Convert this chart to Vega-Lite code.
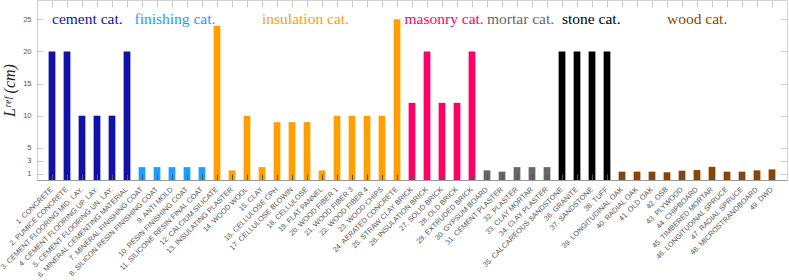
{
  "$schema": "https://vega.github.io/schema/vega-lite/v6.json",
  "width": 750,
  "height": 180,
  "autosize": {"type": "none"},
  "padding": {"left": 37, "top": 0, "right": 2, "bottom": 100},
  "config": {"view": {"stroke": "#d4d4d4"}, "font": "Liberation Sans"},
  "datasets": {
    "bars": [
      {"n": 1, "material": "1. CONCRETE", "category": "cement", "lref": 20},
      {"n": 2, "material": "2. PUMICE CONCRETE", "category": "cement", "lref": 20},
      {"n": 3, "material": "3. CEMENT FLOORING MID. LAY.", "category": "cement", "lref": 10},
      {"n": 4, "material": "4. CEMENT FLOORING UP. LAY.", "category": "cement", "lref": 10},
      {"n": 5, "material": "5. CEMENT FLOORING UN. LAY.", "category": "cement", "lref": 10},
      {"n": 6, "material": "6. MINERAL CEMENTING MATERIAL", "category": "cement", "lref": 20},
      {"n": 7, "material": "7. MINERAL FINISHING COAT", "category": "finishing", "lref": 2},
      {"n": 8, "material": "8. SILICON RESIN FINISHING COAT", "category": "finishing", "lref": 2},
      {"n": 9, "material": "9. ANTI MOLD", "category": "finishing", "lref": 2},
      {"n": 10, "material": "10. RESIN FINISHING COAT", "category": "finishing", "lref": 2},
      {"n": 11, "material": "11. SILICONE RESIN FINAL COAT", "category": "finishing", "lref": 2},
      {"n": 12, "material": "12. CALCIUM SILICATE", "category": "insulation", "lref": 24},
      {"n": 13, "material": "13. INSULATING PLASTER", "category": "insulation", "lref": 1.5},
      {"n": 14, "material": "14. WOOD WOOL", "category": "insulation", "lref": 10},
      {"n": 15, "material": "15. CLAY", "category": "insulation", "lref": 2},
      {"n": 16, "material": "16. CELLULOSE CPH", "category": "insulation", "lref": 9},
      {"n": 17, "material": "17. CELLULOSE BLOWIN", "category": "insulation", "lref": 9},
      {"n": 18, "material": "18. CELLULOSE", "category": "insulation", "lref": 9},
      {"n": 19, "material": "19. FLAT PANNEL", "category": "insulation", "lref": 1.5},
      {"n": 20, "material": "20. WOOD FIBER 1", "category": "insulation", "lref": 10},
      {"n": 21, "material": "21. WOOD FIBER 3", "category": "insulation", "lref": 10},
      {"n": 22, "material": "22. WOOD FIBER 4", "category": "insulation", "lref": 10},
      {"n": 23, "material": "23. WOOD CHIPS", "category": "insulation", "lref": 10},
      {"n": 24, "material": "24. AERATED CONCRETE", "category": "insulation", "lref": 25},
      {"n": 25, "material": "25. STRAW CLAY BRICK", "category": "masonry", "lref": 12},
      {"n": 26, "material": "26. INSULATION BRICK", "category": "masonry", "lref": 20},
      {"n": 27, "material": "27. SOLID BRICK", "category": "masonry", "lref": 12},
      {"n": 28, "material": "28. OLD BRICK", "category": "masonry", "lref": 12},
      {"n": 29, "material": "29. EXTRUDED BRICK", "category": "masonry", "lref": 20},
      {"n": 30, "material": "30. GYPSUM BOARD", "category": "mortar", "lref": 1.5},
      {"n": 31, "material": "31. CEMENT PLASTER", "category": "mortar", "lref": 1.3},
      {"n": 32, "material": "32. PLASTER", "category": "mortar", "lref": 2},
      {"n": 33, "material": "33. CLAY MORTAR", "category": "mortar", "lref": 2},
      {"n": 34, "material": "34. CLAY PLASTER", "category": "mortar", "lref": 2},
      {"n": 35, "material": "35. CALCAREOUS SANDSTONE", "category": "stone", "lref": 20},
      {"n": 36, "material": "36. GRANITE", "category": "stone", "lref": 20},
      {"n": 37, "material": "37. SANDSTONE", "category": "stone", "lref": 20},
      {"n": 38, "material": "38. TUFF", "category": "stone", "lref": 20},
      {"n": 39, "material": "39. LONGITUDINAL OAK", "category": "wood", "lref": 1.3},
      {"n": 40, "material": "40. RADIAL OAK", "category": "wood", "lref": 1.3},
      {"n": 41, "material": "41. OLD OAK", "category": "wood", "lref": 1.3},
      {"n": 42, "material": "42. OSB", "category": "wood", "lref": 1.2},
      {"n": 43, "material": "43. PLYWOOD", "category": "wood", "lref": 1.45},
      {"n": 44, "material": "44. CHIPBOARD", "category": "wood", "lref": 1.55},
      {"n": 45, "material": "45. TIMBERED MORTAR", "category": "wood", "lref": 2.05},
      {"n": 46, "material": "46. LONGITUDINAL SPRUCE", "category": "wood", "lref": 1.3},
      {"n": 47, "material": "47. RADIAL SPRUCE", "category": "wood", "lref": 1.3},
      {"n": 48, "material": "48. MICROSTRANDBOARD", "category": "wood", "lref": 1.5},
      {"n": 49, "material": "49. DWD", "category": "wood", "lref": 1.65}
    ],
    "cats": [
      {"label": "cement cat.", "category": "cement", "at": 1},
      {"label": "finishing cat.", "category": "finishing", "at": 6.5},
      {"label": "insulation cat.", "category": "insulation", "at": 15},
      {"label": "masonry cat.", "category": "masonry", "at": 24.5},
      {"label": "mortar cat.", "category": "mortar", "at": 30},
      {"label": "stone cat.", "category": "stone", "at": 35},
      {"label": "wood cat.", "category": "wood", "at": 42}
    ],
    "ticks": [
      {"t": 1}, {"t": 2}, {"t": 3}, {"t": 4}, {"t": 5}, {"t": 6}, {"t": 7}, {"t": 8}, {"t": 9}, {"t": 10},
      {"t": 11}, {"t": 12}, {"t": 13}, {"t": 14}, {"t": 15}, {"t": 16}, {"t": 17}, {"t": 18}, {"t": 19}, {"t": 20},
      {"t": 21}, {"t": 22}, {"t": 23}, {"t": 24}, {"t": 25}, {"t": 26}, {"t": 27}, {"t": 28}, {"t": 29}, {"t": 30},
      {"t": 31}, {"t": 32}, {"t": 33}, {"t": 34}, {"t": 35}, {"t": 36}, {"t": 37}, {"t": 38}, {"t": 39}, {"t": 40},
      {"t": 41}, {"t": 42}, {"t": 43}, {"t": 44}, {"t": 45}, {"t": 46}, {"t": 47}, {"t": 48}, {"t": 49}
    ]
  },
  "layer": [
    {
      "data": {"name": "bars"},
      "mark": {"type": "bar"},
      "encoding": {
        "x": {
          "field": "material", "type": "nominal", "sort": {"field": "n"},
          "scale": {"paddingInner": 0.55, "paddingOuter": 0.775},
          "axis": {
            "title": null, "labelAngle": -45, "labelAlign": "right", "labelBaseline": "middle",
            "labelFontSize": 7.3, "labelColor": "#555555", "labelFont": "Liberation Sans",
            "tickSize": -6, "tickColor": "#555555", "domainColor": "#999999",
            "labelPadding": 14, "zindex": 1
          }
        },
        "y": {
          "field": "lref", "type": "quantitative",
          "scale": {"domain": [0, 28], "nice": false},
          "axis": {
            "values": [1, 3, 5, 10, 15, 20, 25], "grid": false,
            "title": "Lʳᵉᶠ (cm)", "titleFont": "Liberation Serif", "titleFontStyle": "italic",
            "titleFontSize": 16, "titleFontWeight": "normal", "titleColor": "#222222", "titlePadding": 5,
            "labelFontSize": 7.5, "labelColor": "#555555", "labelPadding": 12,
            "tickSize": -6, "tickColor": "#cccccc", "domainColor": "#cccccc"
          }
        },
        "color": {
          "field": "category", "type": "nominal",
          "scale": {
            "domain": ["cement", "finishing", "insulation", "masonry", "mortar", "stone", "wood"],
            "range": ["#1212a8", "#1aa0ff", "#ffa000", "#ff0066", "#666666", "#000000", "#8b4500"]
          },
          "legend": null
        }
      }
    },
    {
      "data": {"name": "cats"},
      "mark": {"type": "text", "align": "left", "baseline": "middle", "font": "Liberation Serif", "fontSize": 15.5},
      "encoding": {
        "x": {"field": "at", "type": "quantitative", "scale": {"domain": [0, 50], "nice": false}, "axis": null},
        "y": {"datum": 25, "type": "quantitative", "scale": {"domain": [0, 28], "nice": false}, "axis": null},
        "text": {"field": "label"},
        "color": {"field": "category", "type": "nominal", "legend": null}
      }
    },
    {
      "data": {"name": "ticks"},
      "mark": {"type": "point", "opacity": 0},
      "encoding": {
        "x": {"field": "t", "type": "quantitative", "scale": {"domain": [0, 50], "nice": false},
          "axis": {"orient": "top", "values": [1,2,3,4,5,6,7,8,9,10,11,12,13,14,15,16,17,18,19,20,21,22,23,24,25,26,27,28,29,30,31,32,33,34,35,36,37,38,39,40,41,42,43,44,45,46,47,48,49],
            "labels": false, "domain": false, "tickSize": -7, "tickColor": "#cccccc", "title": null, "grid": false}},
        "y": {"datum": 1, "type": "quantitative", "scale": {"domain": [0, 28], "nice": false},
          "axis": {"orient": "right", "values": [1, 3, 5, 10, 15, 20, 25], "labels": false, "domain": false,
            "tickSize": -7, "tickColor": "#cccccc", "title": null, "grid": false}}
      }
    }
  ],
  "resolve": {"scale": {"x": "independent", "y": "independent"}, "axis": {"x": "independent", "y": "independent"}}
}
